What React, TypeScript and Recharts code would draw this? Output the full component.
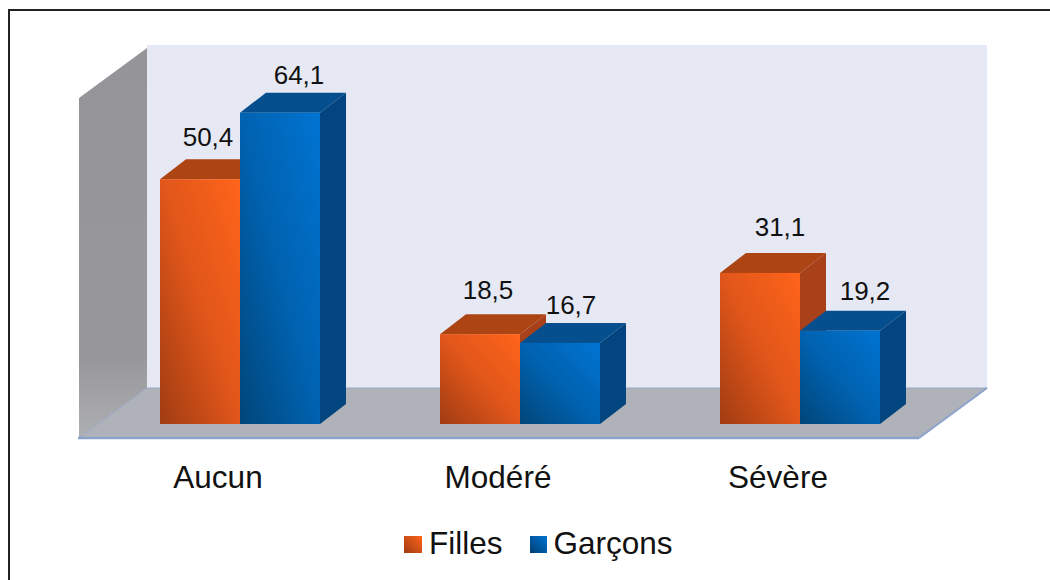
import { BarChart, Bar, XAxis, YAxis, Legend, LabelList, usePlotArea } from "recharts";

const categories = ["Aucun", "Modéré", "Sévère"];
const fillesValues = [50.4, 18.5, 31.1];
const garconsValues = [64.1, 16.7, 19.2];

// hand placed offsets of the value labels, relative to each bar's top centre
const fillesLabelNudge = [{ dx: 8, dy: -42 }, { dx: 8, dy: -44 }, { dx: 20, dy: -46 }];
const garconsLabelNudge = [{ dx: 19, dy: -38 }, { dx: 11, dy: -38 }, { dx: 25, dy: -40 }];

const data = categories.map((name, i) => ({
  name,
  Filles: fillesValues[i],
  Garcons: garconsValues[i]
}));

const FONT = "'Liberation Sans', Arial, sans-serif";
const BAR_DX = 26;
const BAR_DY = -20;

const palette: Record<string, { top: string; side: string; grad: string; from: string; to: string }> = {
  Filles: { top: "#ad4414", side: "#a8411a", grad: "orangeFace", from: "#9e3b12", to: "#ff641a" },
  "Garçons": { top: "#064f8e", side: "#02457f", grad: "blueFace", from: "#003f74", to: "#0074d2" }
};

function Box3D(props: any) {
  const { x, y, width, height, seriesName } = props;
  const c = palette[seriesName];
  const r = x + width;
  const b = y + height;
  return (
    <g>
      <polygon points={`${x},${y} ${r},${y} ${r + BAR_DX},${y + BAR_DY} ${x + BAR_DX},${y + BAR_DY}`} fill={c.top} />
      <polygon points={`${r},${y} ${r + BAR_DX},${y + BAR_DY} ${r + BAR_DX},${b + BAR_DY} ${r},${b}`} fill={c.side} />
      <rect x={x} y={y} width={width} height={height} fill={`url(#${c.grad})`} />
    </g>
  );
}

function Room() {
  const plot = usePlotArea();
  if (!plot) return null;
  const left = plot.x - 21;
  const right = left + plot.width;
  const front = plot.y + plot.height + 14;
  const top = plot.y + 14;
  const dx = 68;
  const dy = -50;
  return (
    <g>
      <rect x={left + dx} y={top - 4 + dy + 1} width={plot.width} height={front - top + 4 - 1} fill="#e6e9f4" />
      <polygon
        points={`${left},${top} ${left + dx},${top + dy} ${left + dx},${front + dy} ${left},${front}`}
        fill="url(#leftWall)"
      />
      <polygon
        points={`${left},${front} ${right},${front} ${right + dx},${front + dy} ${left + dx},${front + dy}`}
        fill="#b0b2ba"
      />
      <line x1={left + dx} y1={front + dy} x2={right + dx} y2={front + dy} stroke="#9aa8c8" strokeWidth={1} />
      <line x1={left} y1={front} x2={left + dx} y2={front + dy} stroke="#9aa8c8" strokeWidth={1} />
      <line x1={right} y1={front} x2={right + dx} y2={front + dy} stroke="#8ba3cc" strokeWidth={2} />
      <line x1={left - 1} y1={front} x2={right} y2={front} stroke="#8ba3cc" strokeWidth={2.5} />
    </g>
  );
}

function valueLabel(nudges: { dx: number; dy: number }[]) {
  return (props: any) => {
    const { x, y, width, index, value } = props;
    const n = nudges[index];
    return (
      <text
        x={x + width / 2 + n.dx}
        y={y + n.dy}
        dy="0.35em"
        textAnchor="middle"
        fontFamily={FONT}
        fontSize={26}
        fill="#111"
      >
        {String(value).replace(".", ",")}
      </text>
    );
  };
}

function LegendRow({ payload }: any) {
  return (
    <div style={{ display: "flex", alignItems: "center", fontFamily: FONT, fontSize: 31.5, color: "#111", lineHeight: "36px" }}>
      {(payload || []).map((item: any, i: number) => {
        const c = palette[item.value];
        return (
          <div key={item.value} style={{ display: "flex", alignItems: "center", marginRight: i === 0 ? 27 : 0 }}>
            <span
              style={{
                width: i === 0 ? 18 : 17,
                height: 17,
                marginRight: 7,
                marginTop: 2,
                background: `linear-gradient(45deg, ${c.from}, ${c.to})`
              }}
            />
            {item.value}
          </div>
        );
      })}
    </div>
  );
}

export default function App() {
  return (
    <div style={{ position: "absolute", left: 0, top: 0, width: 1050, height: 580, overflow: "hidden", background: "#fff" }}>
      {/* only the top and left edges of the frame fall inside the picture */}
      <div style={{ position: "absolute", left: 8, top: 9, width: 1100, height: 640, border: "2px solid #222" }} />
      <BarChart
        width={1050}
        height={580}
        data={data}
        barSize={80}
        barGap={0}
        margin={{ top: 84, right: 110, bottom: 56, left: 100 }}
        style={{ position: "absolute", left: 0, top: 0 }}
      >
        <defs>
          <linearGradient id="orangeFace" x1="0" y1="1" x2="1" y2="0">
            <stop offset="0" stopColor="#a03c12" />
            <stop offset="0.5" stopColor="#e0561a" />
            <stop offset="1" stopColor="#ff641a" />
          </linearGradient>
          <linearGradient id="blueFace" x1="0" y1="1" x2="1" y2="0">
            <stop offset="0" stopColor="#004679" />
            <stop offset="0.5" stopColor="#0062b0" />
            <stop offset="1" stopColor="#0074d2" />
          </linearGradient>
          <linearGradient id="leftWall" x1="0" y1="0" x2="0" y2="1">
            <stop offset="0" stopColor="#959599" />
            <stop offset="0.8" stopColor="#98989c" />
            <stop offset="1" stopColor="#aeafb3" />
          </linearGradient>
        </defs>
        <Room />
        <XAxis
          dataKey="name"
          axisLine={false}
          tickLine={false}
          height={100}
          tickMargin={36}
          tick={{ fontSize: 31.5, fill: "#111", fontFamily: FONT, dx: -22 }}
        />
        <YAxis hide domain={[0, 70]} />
        <Legend
          layout="horizontal"
          verticalAlign="middle"
          align="center"
          content={<LegendRow />}
          wrapperStyle={{ left: 404, top: 525, width: 300, height: 36 }}
        />
        <Bar dataKey="Filles" name="Filles" fill="#ff641a" isAnimationActive={false} shape={<Box3D seriesName="Filles" />}>
          <LabelList content={valueLabel(fillesLabelNudge)} />
        </Bar>
        <Bar dataKey="Garcons" name="Garçons" fill="#0074d2" isAnimationActive={false} shape={<Box3D seriesName="Garçons" />}>
          <LabelList content={valueLabel(garconsLabelNudge)} />
        </Bar>
      </BarChart>
    </div>
  );
}
